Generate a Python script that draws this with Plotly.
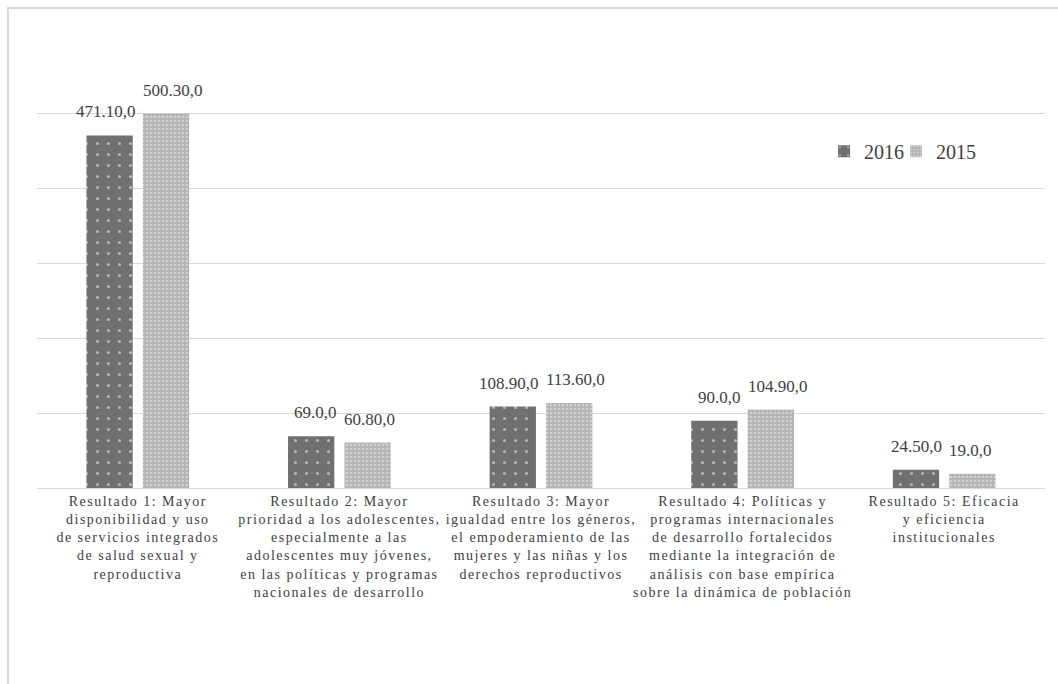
import plotly.graph_objects as go

categories = [
    ["Resultado 1: Mayor", "disponibilidad y uso", "de servicios integrados", "de salud sexual y", "reproductiva"],
    ["Resultado 2: Mayor", "prioridad a los adolescentes,", "especialmente a las", "adolescentes muy jóvenes,", "en las políticas y programas", "nacionales de desarrollo"],
    ["Resultado 3: Mayor", "igualdad entre los géneros,", "el empoderamiento de las", "mujeres y las niñas y los", "derechos reproductivos"],
    ["Resultado 4: Políticas y", "programas internacionales", "de desarrollo fortalecidos", "mediante la integración de", "análisis con base empírica", "sobre la dinámica de población"],
    ["Resultado 5: Eficacia", "y eficiencia", "institucionales"],
]
cat_ids = ["R1", "R2", "R3", "R4", "R5"]

values_2016 = [471.1, 69.0, 108.9, 90.0, 24.5]
values_2015 = [500.3, 60.8, 113.6, 104.9, 19.0]
labels_2016 = ["471.10,0", "69.0,0", "108.90,0", "90.0,0", "24.50,0"]
labels_2015 = ["500.30,0", "60.80,0", "113.60,0", "104.90,0", "19.0,0"]

SERIF = "Liberation Serif"
TXT = "#404040"
GRID = "#d9d9d9"

ticktext = ["<br>".join('<span style="letter-spacing:1.5px">%s</span>' % ln for ln in lines)
            for lines in categories]

fig = go.Figure()
fig.add_trace(go.Bar(
    name="2016", x=cat_ids, y=values_2016, legend="legend",
    marker=dict(color="#707070", line=dict(width=0),
                pattern=dict(shape=".", fgcolor="#ffffff", size=11, solidity=0.06)),
))
fig.add_trace(go.Bar(
    name="2015", x=cat_ids, y=values_2015, legend="legend2",
    marker=dict(color="#b3b3b3", line=dict(width=0),
                pattern=dict(shape=".", fgcolor="#f0f0f0", size=4, solidity=0.35)),
))

annotations = []
for vals, labs, shift, anchor in ((values_2016, labels_2016, 0, "right"),
                                  (values_2015, labels_2015, 3, "left")):
    for c, v, t in zip(cat_ids, vals, labs):
        annotations.append(dict(
            x=c, y=v, xref="x", yref="y", text=t, showarrow=False,
            xshift=shift, yshift=12, yanchor="bottom", xanchor=anchor,
            font=dict(family=SERIF, size=17, color=TXT),
        ))

legend_common = dict(orientation="h", xanchor="left", yanchor="middle",
                     font=dict(family=SERIF, size=20, color=TXT),
                     bgcolor="rgba(0,0,0,0)", itemwidth=30)

fig.update_layout(
    width=1058, height=684,
    margin=dict(l=37, r=13, t=39, b=196, autoexpand=False),
    paper_bgcolor="white", plot_bgcolor="white",
    barmode="group", bargap=0.44, bargroupgap=0.18,
    showlegend=True,
    legend=dict(x=0.7808, y=0.75, **legend_common),
    legend2=dict(x=0.8522, y=0.75, **legend_common),
    annotations=annotations,
    xaxis=dict(type="category", tickmode="array", tickvals=cat_ids, ticktext=ticktext,
               tickangle=0, automargin=False,
               tickfont=dict(family=SERIF, size=14, color=TXT),
               showline=True, linecolor=GRID, linewidth=1, ticks="", showgrid=False),
    yaxis=dict(range=[0, 600], dtick=100, showticklabels=False, gridcolor=GRID,
               gridwidth=1, zeroline=False, showline=False, automargin=False),
    shapes=[dict(type="rect", xref="paper", yref="paper",
                 x0=-29 / 1008, x1=1.2, y0=-1.0, y1=480 / 449,
                 line=dict(color=GRID, width=2), fillcolor="rgba(0,0,0,0)", layer="below")],
)

fig.write_html("out.html")
